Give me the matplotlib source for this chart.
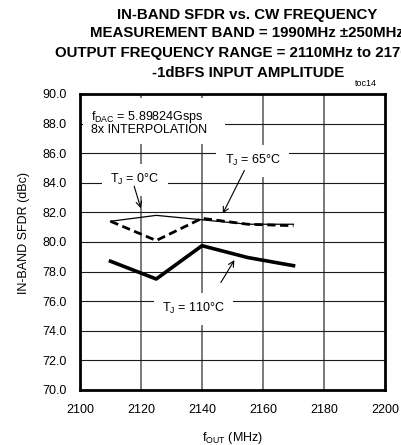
import matplotlib
matplotlib.use("Agg")
import matplotlib.pyplot as plt
from matplotlib.patches import Rectangle

plt.rcParams['font.family'] = ['Liberation Sans', 'DejaVu Sans']
plt.rcParams['mathtext.fontset'] = 'custom'
plt.rcParams['mathtext.rm'] = 'Liberation Sans'

# --- data ---
f_out = [2110, 2125, 2140, 2155, 2170]
sfdr_0c = [81.4, 81.8, 81.5, 81.2, 81.2]
sfdr_65c = [81.4, 80.1, 81.6, 81.2, 81.1]
sfdr_110c = [78.7, 77.5, 79.75, 78.95, 78.4]

x_ticks = [2100, 2120, 2140, 2160, 2180, 2200]
y_ticks = [70, 72, 74, 76, 78, 80, 82, 84, 86, 88, 90]

fig = plt.figure(figsize=(4.01, 4.45), dpi=100)
ax = fig.add_axes([80/401, 1-390/445, 305/401, 296/445])

ax.plot(f_out, sfdr_0c, color='black', lw=0.9, zorder=4)
ax.plot(f_out, sfdr_65c, color='black', lw=2.0, ls=(0, (3, 1.6)), zorder=4)
ax.plot(f_out, sfdr_110c, color='black', lw=2.6, zorder=4)

ax.set_xlim(2100, 2200)
ax.set_ylim(70, 90)
ax.set_xticks(x_ticks)
ax.set_yticks(y_ticks)
ax.set_yticklabels([f"{v:.1f}" for v in y_ticks])
ax.tick_params(length=0, labelsize=9)
ax.tick_params(axis='x', pad=10)
ax.tick_params(axis='y', pad=9.5)
for v in x_ticks[1:-1]:
    ax.axvline(v, color='#6e6e6e', lw=1.3, zorder=1)
for v in y_ticks[1:-1]:
    ax.axhline(v, color='#1a1a1a', lw=0.8, zorder=1)
for s in ax.spines.values():
    s.set_linewidth(2.0)
    s.set_zorder(6)

ax.set_xlabel(r'f$_\mathrm{OUT}$ (MHz)', fontsize=9, labelpad=10)
ax.set_ylabel('IN-BAND SFDR (dBc)', fontsize=9, va='center')
ax.yaxis.set_label_coords(-0.184, 0.529)

# white box behind the conditions text
ax.add_patch(Rectangle((0.01, 0.83), 0.465, 0.155, transform=ax.transAxes,
                       facecolor='white', edgecolor='none', zorder=2))
ax.text(2103.6, 88.45, r'f$_\mathrm{DAC}$ = 5.89824Gsps', fontsize=9,
        va='center', ha='left', zorder=5)
ax.text(2103.6, 87.55, '8x INTERPOLATION', fontsize=9,
        va='center', ha='left', zorder=5)

box = dict(facecolor='white', edgecolor='none', pad=6)
ax.text(2118, 84.2, r'T$_\mathrm{J}$ = 0°C', fontsize=9, ha='center',
        va='center', bbox=box, zorder=3)
ax.annotate('', xy=(2120.2, 82.1), xytext=(2117.5, 83.95),
            arrowprops=dict(arrowstyle='->', lw=0.8, color='black'), zorder=5)
ax.text(2156.6, 85.5, r'T$_\mathrm{J}$ = 65°C', fontsize=9, ha='center',
        va='center', bbox=box, zorder=3)
ax.annotate('', xy=(2146.4, 81.75), xytext=(2154.3, 85.0),
            arrowprops=dict(arrowstyle='->', lw=0.8, color='black'), zorder=5)
ax.text(2137.2, 75.5, r'T$_\mathrm{J}$ = 110°C', fontsize=9, ha='center',
        va='center', bbox=box, zorder=3)
ax.annotate('', xy=(2151.1, 78.94), xytext=(2145.7, 77.1),
            arrowprops=dict(arrowstyle='->', lw=0.8, color='black'), zorder=5)

# title lines
tkw = dict(fontsize=10.8, fontweight='bold', ha='center', va='center')
fig.text(247/401, 1-15/445, 'IN-BAND SFDR vs. CW FREQUENCY', **tkw)
fig.text(247/401, 1-33/445, 'MEASUREMENT BAND = 1990MHz \u00b1250MHz', **tkw)
fig.text(247/401, 1-53/445, 'OUTPUT FREQUENCY RANGE = 2110MHz to 2170MHz', **tkw)
fig.text(248/401, 1-73/445, '-1dBFS INPUT AMPLITUDE', **tkw)
fig.text(366/401, 1-84/445, 'toc14', fontsize=6.5, ha='center', va='center')

fig.savefig('out.png', dpi=100)
